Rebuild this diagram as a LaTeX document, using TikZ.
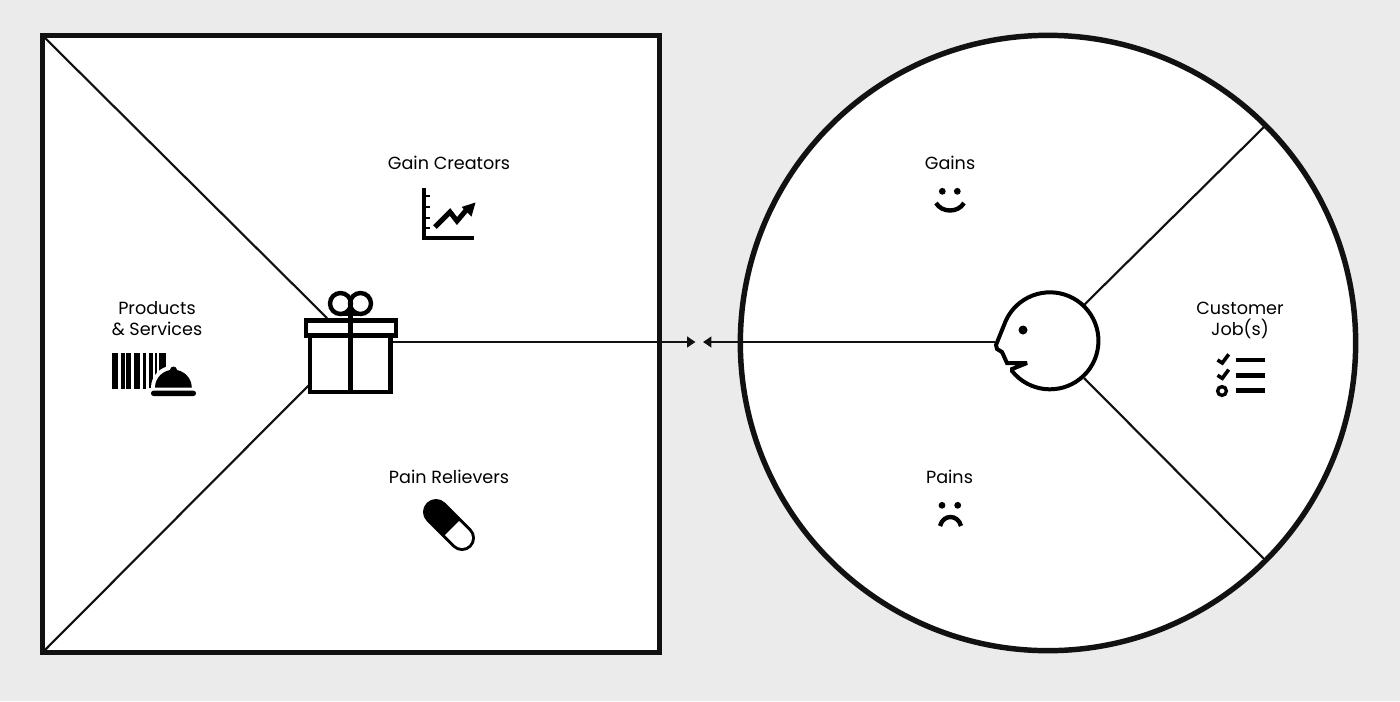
\documentclass[tikz,border=0pt]{standalone}
\usepackage{fontspec}
\setmainfont{Poppins}
\usetikzlibrary{arrows.meta}
\definecolor{bgc}{HTML}{EBEBEB}
\definecolor{ink}{HTML}{111111}
\tikzset{
  frameshape/.style={draw=ink,fill=white,line width=4.1pt,inner sep=0pt,outer sep=0pt},
  thinline/.style={draw=ink,line width=1.6pt},
  flowline/.style={draw=ink,line width=1.6pt,-{Triangle[length=6.3pt,width=8pt]}},
  iconline/.style={draw=black,line width=3.3pt},
  labeltext/.style={text=black,font=\fontsize{13.2pt}{15.75pt}\selectfont,align=center,inner sep=0pt}
}
\begin{document}
\begin{tikzpicture}[x=0.75pt,y=-0.75pt]
\useasboundingbox (0,0) rectangle (1400,701);
\fill[bgc] (0,0) rectangle (1400,701);

% value map square and customer circle
\node[frameshape,minimum size=462.5pt,anchor=center] (map) at (351,344) {};
\node[frameshape,circle,minimum size=461.5pt,anchor=center] (profile) at (1048,343) {};

% connectors of the square
\coordinate (giftTL) at (327,318);
\coordinate (giftBL) at (309,385);
\coordinate (giftR) at (392,342);
\coordinate (tipR) at (695.5,342);
\coordinate (tipL) at (703,342);
\coordinate (headL) at (995,342);
\draw[thinline] (map.north west) -- (giftTL);
\draw[thinline] (map.south west) -- (giftBL);
\draw[flowline] (giftR) -- (tipR);

% connectors of the circle
\coordinate (headUR) at (1084,305);
\coordinate (headLR) at (1084,378);
\draw[thinline] (headUR) -- (profile.45);
\draw[thinline] (headLR) -- (profile.-45);
\draw[flowline] (headL) -- (tipL);

% gift
\begin{scope}[iconline]
  \draw (340.5,303.5) circle[radius=10.5];
  \draw (360.5,303.5) circle[radius=10.5];
  \draw (340,314) -- (361,314);
  \draw[fill=white] (310,336) rectangle (390.5,392);
  \draw[fill=white] (306,320.5) rectangle (396,335.5);
  \draw (350.5,303) -- (350.5,392);
\end{scope}

% face
\draw[draw=black,fill=white,line width=3pt,miter limit=4]
  (1012,371) arc[start angle=141.5,end angle=-157,radius=48.5]
  -- (996,345) -- (997,349) -- (1002,352) -- (1007,363) -- (1027,363) -- (1012,369) -- cycle;
\fill (1023,330) circle[radius=4.5];

% labels
\node[labeltext] (gc) at (449,163) {Gain Creators};
\node[labeltext] (ps) at (157,319) {Products\\\& Services};
\node[labeltext] (pr) at (449,477) {Pain Relievers};
\node[labeltext] (ga) at (950,163) {Gains};
\node[labeltext] (pa) at (949.5,477) {Pains};
\node[labeltext] (cj) at (1240,320.5) {Customer\\Job(s)};

% chart icon
\draw[black,line width=2.9pt] (424,188) -- (424,238) -- (474,238);
\foreach \yy in {196,207,218,228}{\draw[black,line width=2.2pt] (424,\yy) -- (430,\yy);}
\draw[black,line width=3.8pt] (435,227) -- (450,212) -- (457,221) -- (468,208);
\fill (475.5,202.5) -- (461.5,207) -- (471.5,216.5) -- cycle;

% pill
\draw[black,line width=19.5pt,line cap=round] (436,512) -- (462,538);
\fill[white] (459,521) -- (469.07,530.93) arc[start angle=-45,end angle=135,radius=10] -- (445,535) -- cycle;

% barcode and bell
\foreach \a/\b in {112/118,121/124.5,126/131,134/140,143/146,149/153,154.5/157,158.5/165.5}{
  \fill (\a,353) rectangle (\b,389);}
\fill[white] (151,394) -- (151,387.7) arc[start angle=180,end angle=360,x radius=22,y radius=22] -- (195,394) -- cycle;
\fill[white] (147,388) rectangle (170,398);
\fill (155,387.7) arc[start angle=180,end angle=360,x radius=18.4,y radius=18] -- cycle;
\fill (170,370) arc[start angle=180,end angle=360,radius=3.5] -- cycle;
\fill[rounded corners=1.9pt] (151,390.7) rectangle (196,396);

% smiley
\fill (942.3,191.3) circle[radius=3.4];
\fill (957.3,191.3) circle[radius=3.4];
\draw[iconline] (936,203) .. controls (942,213) and (958,213) .. (964,203);

% frown
\fill (942,505.3) circle[radius=3.4];
\fill (957.7,505.3) circle[radius=3.4];
\draw[iconline] (940,526) .. controls (943,514) and (958,514) .. (961,526);

% checklist
\foreach \yy in {360,375.3,390.7}{\draw[black,line width=3.6pt] (1235.7,\yy) -- (1265.3,\yy);}
\foreach \yy in {0,15.3}{\draw[black,line width=2.7pt] (1217.5,360+\yy) -- (1222.3,363+\yy) -- (1228.7,354.3+\yy);}
\draw[black,line width=2.5pt] (1222,391) circle[radius=4.4];
\end{tikzpicture}
\end{document}
